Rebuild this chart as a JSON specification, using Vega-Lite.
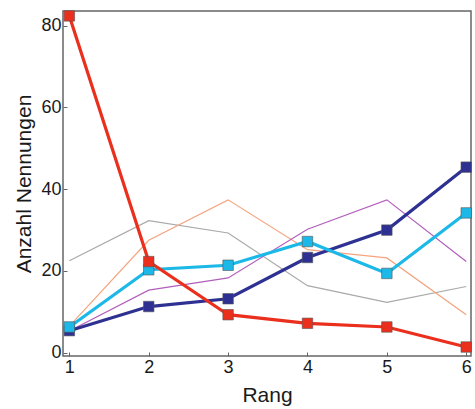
{
  "$schema": "https://vega.github.io/schema/vega-lite/v6.json",
  "width": 408,
  "height": 345,
  "autosize": "none",
  "padding": {"left": 63, "top": 11, "right": 4, "bottom": 53},
  "background": "white",
  "config": {
    "view": {"stroke": "#666666", "strokeWidth": 1.5},
    "font": "Liberation Sans",
    "axis": {"grid": false, "domain": false, "tickColor": "#666666", "tickSize": -4, "labelFontSize": 18, "labelColor": "#1a1a1a", "titleFontSize": 21, "titleFontWeight": "normal", "titleColor": "#1a1a1a", "labelPadding": 6}
  },
  "data": {
    "values": [
      {"rang": 1, "series": "gray", "n": 22.5},
      {"rang": 2, "series": "gray", "n": 32.3},
      {"rang": 3, "series": "gray", "n": 29.3},
      {"rang": 4, "series": "gray", "n": 16.4},
      {"rang": 5, "series": "gray", "n": 12.3},
      {"rang": 6, "series": "gray", "n": 16.2},
      {"rang": 1, "series": "orange", "n": 6.5},
      {"rang": 2, "series": "orange", "n": 27.5},
      {"rang": 3, "series": "orange", "n": 37.4},
      {"rang": 4, "series": "orange", "n": 25.2},
      {"rang": 5, "series": "orange", "n": 23.2},
      {"rang": 6, "series": "orange", "n": 9.3},
      {"rang": 1, "series": "purple", "n": 5.3},
      {"rang": 2, "series": "purple", "n": 15.3},
      {"rang": 3, "series": "purple", "n": 18.3},
      {"rang": 4, "series": "purple", "n": 30.2},
      {"rang": 5, "series": "purple", "n": 37.4},
      {"rang": 6, "series": "purple", "n": 22.3},
      {"rang": 1, "series": "darkblue", "n": 5.4},
      {"rang": 2, "series": "darkblue", "n": 11.3},
      {"rang": 3, "series": "darkblue", "n": 13.2},
      {"rang": 4, "series": "darkblue", "n": 23.3},
      {"rang": 5, "series": "darkblue", "n": 30.0},
      {"rang": 6, "series": "darkblue", "n": 45.4},
      {"rang": 1, "series": "cyan", "n": 6.3},
      {"rang": 2, "series": "cyan", "n": 20.3},
      {"rang": 3, "series": "cyan", "n": 21.4},
      {"rang": 4, "series": "cyan", "n": 27.2},
      {"rang": 5, "series": "cyan", "n": 19.4},
      {"rang": 6, "series": "cyan", "n": 34.2},
      {"rang": 1, "series": "red", "n": 82.4},
      {"rang": 2, "series": "red", "n": 22.3},
      {"rang": 3, "series": "red", "n": 9.3},
      {"rang": 4, "series": "red", "n": 7.2},
      {"rang": 5, "series": "red", "n": 6.3},
      {"rang": 6, "series": "red", "n": 1.4}
    ]
  },
  "encoding": {
    "x": {"field": "rang", "type": "quantitative", "title": "Rang", "scale": {"domain": [0.92, 6.06], "nice": false, "zero": false}, "axis": {"values": [1, 2, 3, 4, 5, 6], "titlePadding": 8}},
    "y": {"field": "n", "type": "quantitative", "title": "Anzahl Nennungen", "scale": {"domain": [-0.8, 83.6], "nice": false, "zero": false}, "axis": {"values": [0, 20, 40, 60, 80], "titlePadding": 6}},
    "color": {"field": "series", "type": "nominal", "legend": null, "scale": {"domain": ["gray", "orange", "purple", "darkblue", "cyan", "red"], "range": ["#a9a9a9", "#f5a47e", "#b25fbc", "#2e3192", "#1cb8e8", "#ea2f1d"]}}
  },
  "layer": [
    {
      "transform": [{"filter": "indexof(['gray','orange','purple'], datum.series) >= 0"}],
      "mark": {"type": "line", "strokeWidth": 1.2}
    },
    {
      "transform": [{"filter": "indexof(['darkblue','cyan','red'], datum.series) >= 0"}],
      "mark": {"type": "line", "strokeWidth": 3.2}
    },
    {
      "transform": [{"filter": "indexof(['darkblue','cyan','red'], datum.series) >= 0"}],
      "mark": {"type": "square", "size": 110, "opacity": 1, "filled": true, "stroke": "#555555", "strokeWidth": 0.6}
    }
  ]
}
